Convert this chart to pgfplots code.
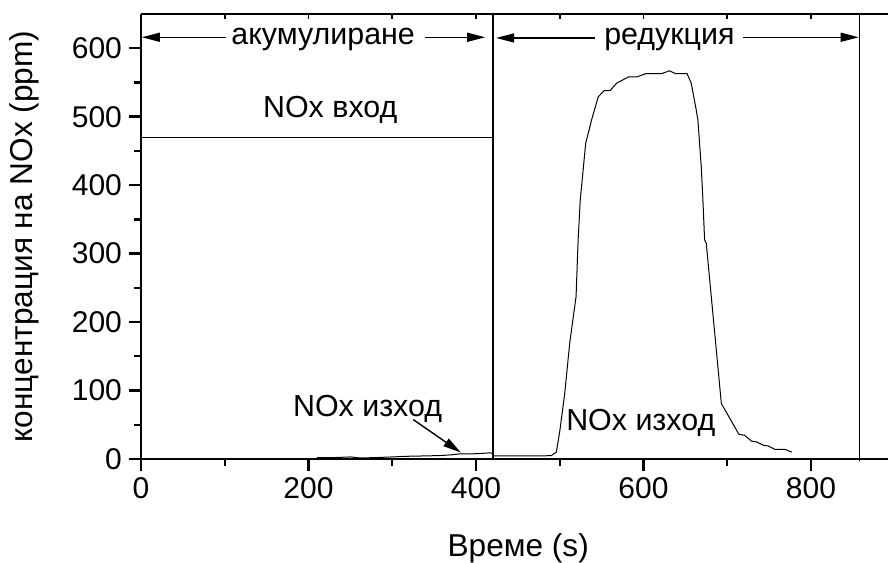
\documentclass[border=0pt]{standalone}
\usepackage{fontspec}
\setmainfont{Liberation Sans}
\usepackage{pgfplots}
\pgfplotsset{compat=1.18}
\usetikzlibrary{arrows.meta}

\begin{document}
\begin{tikzpicture}
\begin{axis}[
  name=ax,
  scale only axis, width=373.5pt, height=222.5pt,
  xmin=0, xmax=892, ymin=0, ymax=650,
  axis x line*=bottom, axis y line*=left,
  axis line style={line width=1.2pt},
  every tick/.style={line width=1.2pt, black},
  tick align=outside,
  major tick length=6pt, minor tick length=3.5pt,
  xtick={0,200,...,800}, ytick={0,100,...,600},
  minor x tick num=1, minor y tick num=1,
  /pgf/number format/assume math mode=true,
  ticklabel style={font=\fontsize{15}{17}\selectfont},
  xlabel={Време (s)}, ylabel={концентрация на NOx (ppm)},
  label style={font=\fontsize{15.8}{18}\selectfont},
  xlabel style={at={(axis description cs:0.505,-0.2202)}, anchor=base},
  ylabel style={at={(axis description cs:-0.1446,0.5)}, anchor=base},
  clip=false,
]
% top frame line with small inward ticks
\draw[line width=1.2pt] (rel axis cs:0,1) -- (rel axis cs:1,1);
\pgfplotsinvokeforeach{100,200,300,400,500,600,700,800}{
  \draw[line width=0.8pt] (axis cs:#1,650) -- ++(0,-2.5pt);
}

% NOx inlet level during storage
\addplot[black, line width=0.7pt] coordinates {(0,470) (420,470)};

% NOx outlet signal
\addplot[black, line width=0.5pt] coordinates {
  (210,2) (230,2) (250,3) (262,1.5) (280,2) (300,3) (320,4) (340,4.5)
  (357,5) (370,6) (381,7.5) (395,7.5) (405,8) (417,9) (420,8)
  (421,4.5) (440,4.5) (460,4.5) (480,4.5) (490,5) (496,10)
  (500,40) (506,96) (512,170) (519.5,237) (522,320) (524.5,378)
  (527,410) (531,461) (538,495) (546,529) (553,538) (560,538)
  (568,549) (582,558) (592,558) (603,563) (622,563) (631,567)
  (638,563) (652,563) (657,549) (663,510) (665,495) (669,427)
  (671,378) (673,320) (675,315) (693,81) (714,36) (721,34.5)
  (729,26) (735,25) (743,20) (749,19) (757,14) (769,14) (777,10)
};

% phase boundaries
\draw[line width=0.8pt] (axis cs:420,0) -- (axis cs:420,650);
\draw[line width=0.8pt] (axis cs:858,-3) -- (axis cs:858,650);

% phase arrows
\draw[line width=0.7pt, -{Triangle[length=9pt,width=4.5pt]}] (axis cs:101,616) -- (axis cs:1,616);
\draw[line width=0.7pt, -{Triangle[length=9pt,width=4.5pt]}] (axis cs:339,616) -- (axis cs:411,616);
\node[anchor=base, font=\fontsize{15.2}{17}\selectfont] at (axis cs:217.5,605) {акумулиране};

\draw[line width=0.7pt, -{Triangle[length=9pt,width=4.5pt]}] (axis cs:542,615) -- (axis cs:424,615);
\draw[line width=0.7pt, -{Triangle[length=9pt,width=4.5pt]}] (axis cs:719,616) -- (axis cs:857,616);
\node[anchor=base, font=\fontsize{15.2}{17}\selectfont] at (axis cs:631,605) {редукция};

% curve labels
\node[anchor=base, font=\fontsize{15.2}{17}\selectfont] at (axis cs:226,499) {NOx вход};
\node[anchor=base, font=\fontsize{15.2}{17}\selectfont] at (axis cs:270.6,62.5) {NOx изход};
\draw[line width=0.7pt, -{Triangle[length=9pt,width=4.5pt]}] (axis cs:325,57.6) -- (axis cs:382,9.4);
\node[anchor=base, font=\fontsize{15.2}{17}\selectfont] at (axis cs:596.8,42) {NOx изход};
\end{axis}
\pgfresetboundingbox
\path[use as bounding box] ([shift={(-70.5pt,-52pt)}]ax.south west) rectangle ([shift={(0pt,7pt)}]ax.north east);
\end{tikzpicture}
\end{document}
